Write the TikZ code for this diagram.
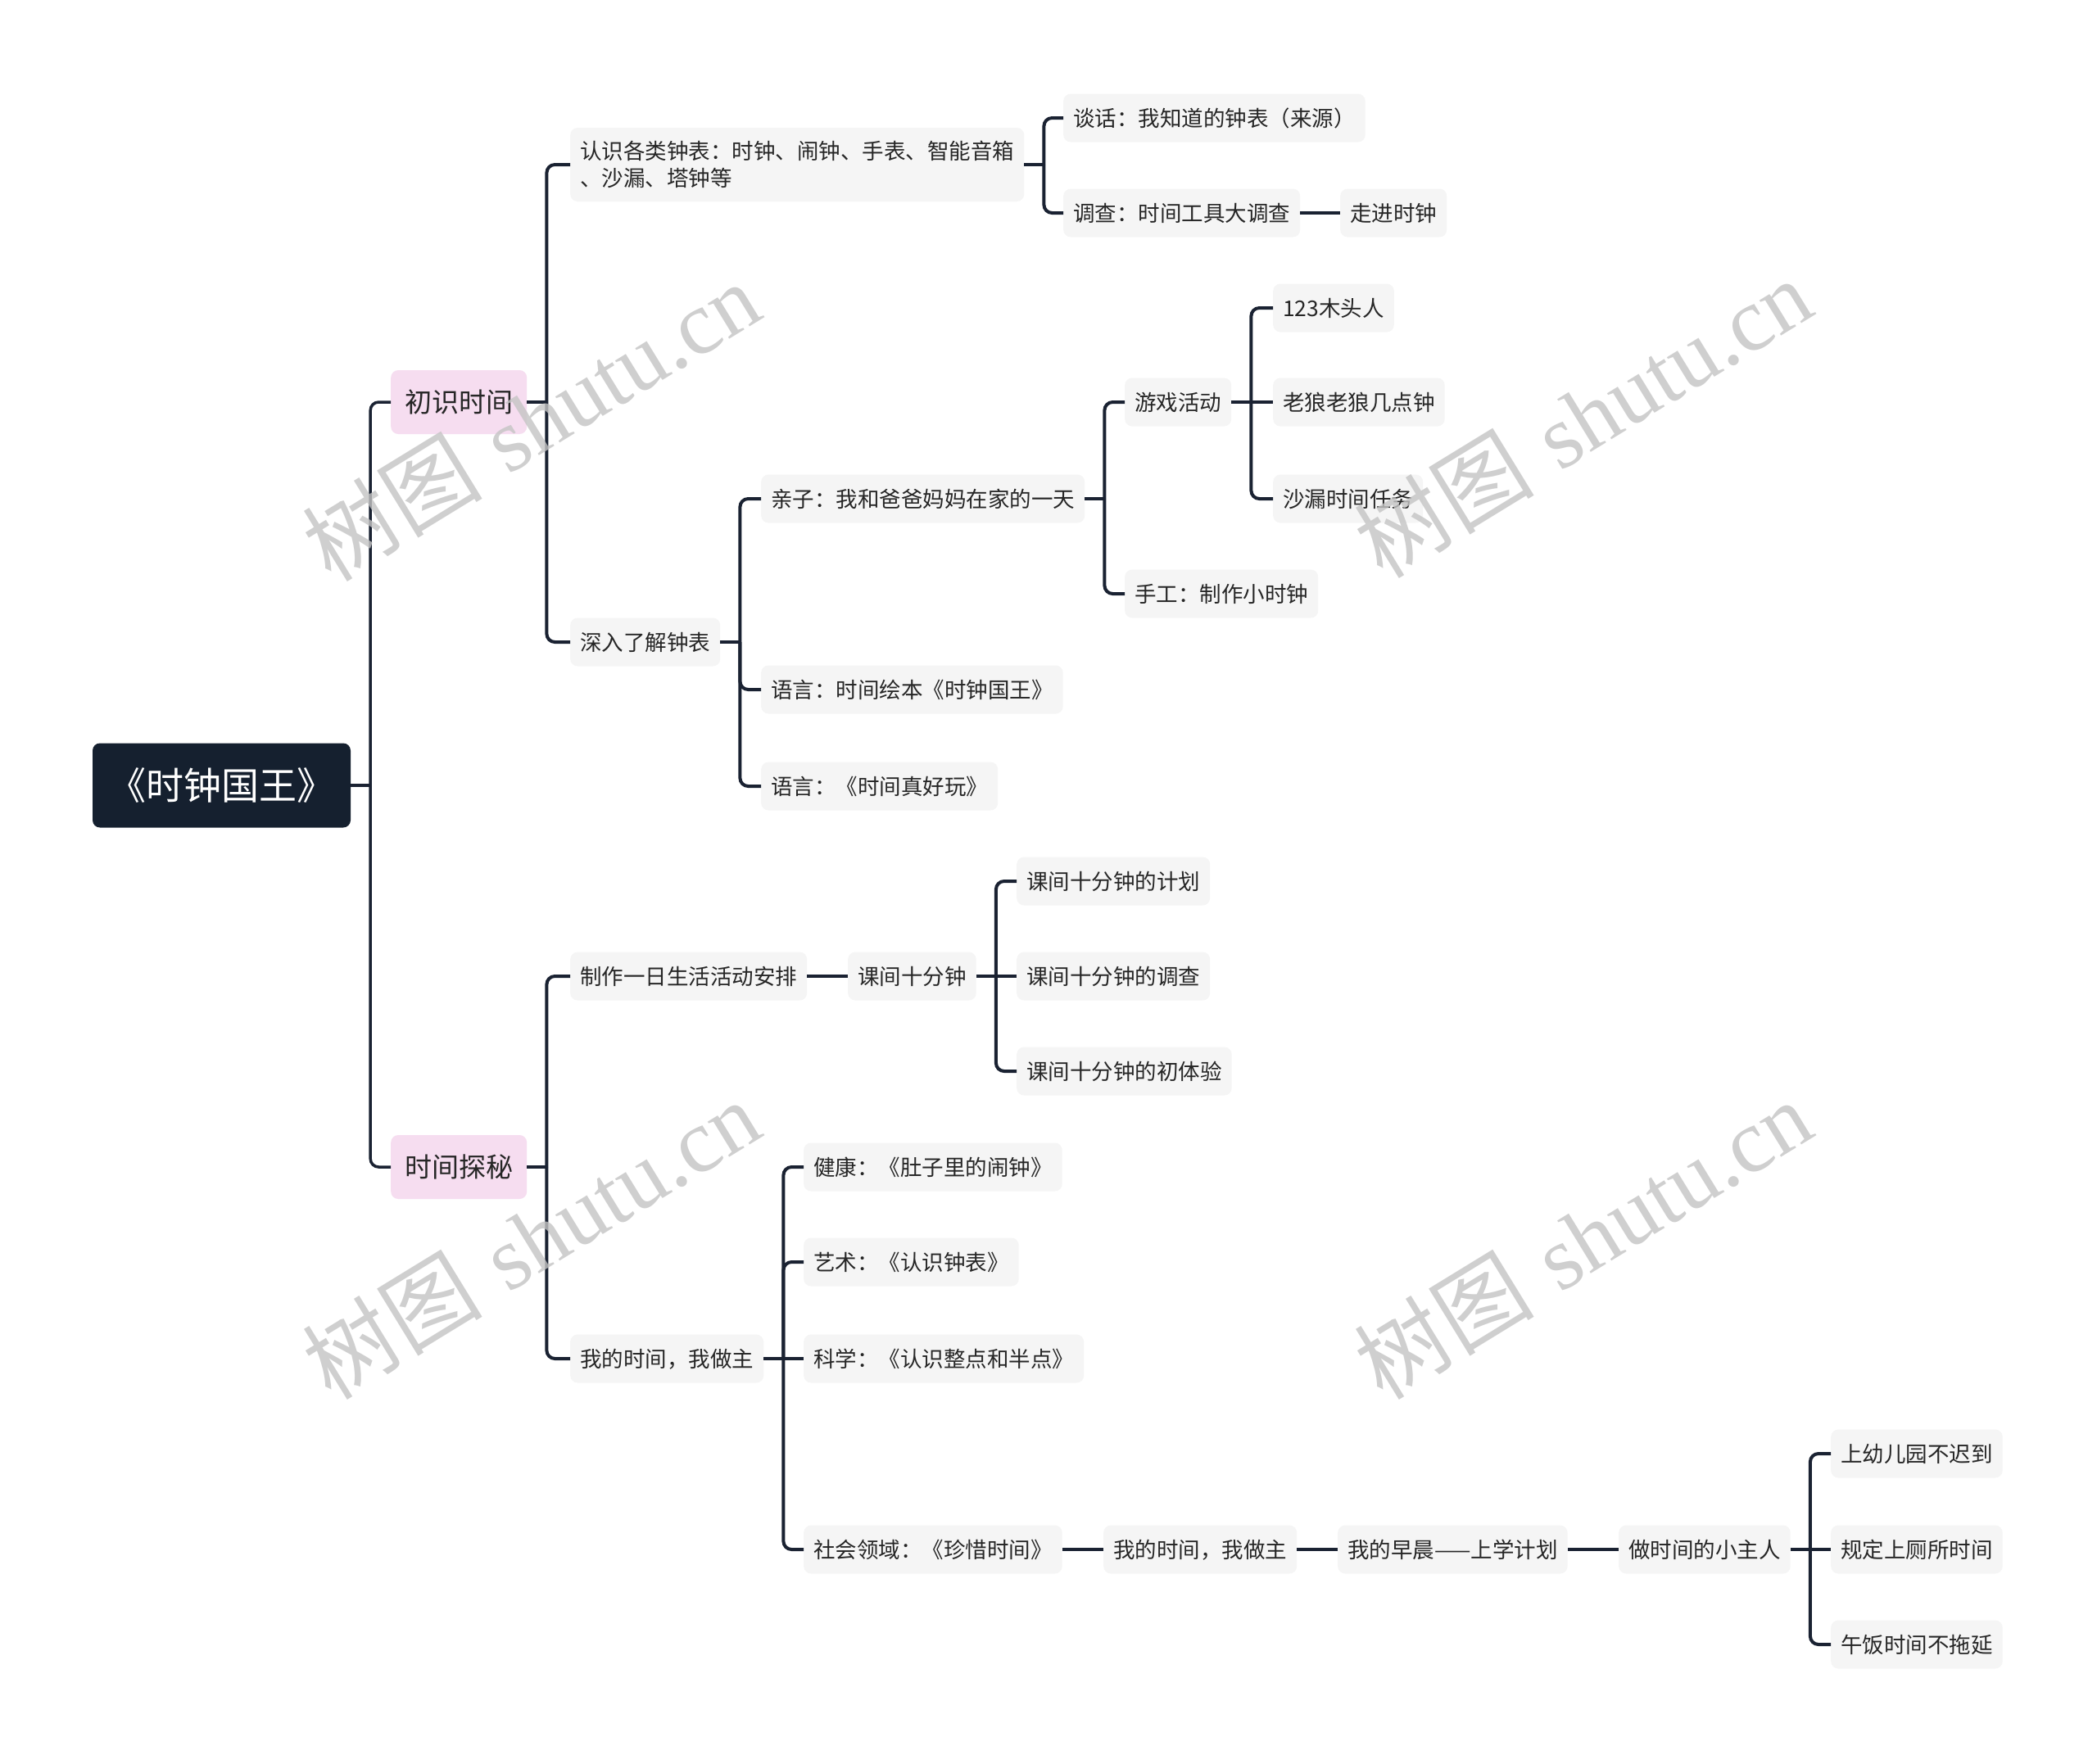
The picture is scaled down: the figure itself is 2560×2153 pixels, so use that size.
\documentclass[tikz,border=0pt]{standalone}
\usepackage{fontspec}
\newfontfamily\cjk{Noto Sans CJK SC}
\newfontfamily\wmserif{Liberation Serif}
\usetikzlibrary{calc}
\definecolor{rootfill}{HTML}{15202F}
\definecolor{pinkfill}{HTML}{F6DDF0}
\definecolor{nodefill}{HTML}{F5F5F5}
\definecolor{linecol}{HTML}{1A2232}
\definecolor{txt}{HTML}{262626}
\definecolor{wm}{HTML}{C4C4C4}
\newcommand\mybranch[3][conn]{%
  \path (#2.east) ++(24,0) coordinate (#2-b);
  \draw[#1] (#2.east) -- (#2-b);
  \foreach \c in {#3} {%
    \path (#2-b); \pgfgetlastxy{\bx}{\by}%
    \path (\c.west); \pgfgetlastxy{\cx}{\cy}%
    \pgfmathtruncatemacro\same{abs(\by-\cy)<1}%
    \ifnum\same=1
      \draw[#1] (#2-b) -- (\c.west);
    \else
      \draw[#1, rounded corners=10pt] (#2-b) |- (\c.west);
    \fi
  }%
}
\begin{document}
\begin{tikzpicture}[x=1pt,y=-1pt,
  base/.style={text=txt, rounded corners=9pt, inner sep=0pt},
  rootbox/.style={base, fill=rootfill, text=white, font=\cjk\fontsize{46}{50}\selectfont,
    minimum width=315pt, minimum height=103pt, text height=40.5pt, text depth=5.5pt},
  topic/.style={base, fill=pinkfill, font=\cjk\fontsize{33}{38}\selectfont,
    minimum height=78pt, inner xsep=17pt, anchor=west, text height=29pt, text depth=4pt},
  leaf/.style={base, fill=nodefill, font=\cjk\fontsize{26.5}{33}\selectfont,
    minimum height=59pt, inner xsep=12pt, anchor=west, text height=23.3pt, text depth=3.2pt},
  leafml/.style={base, fill=nodefill, font=\cjk\fontsize{26.5}{33}\selectfont,
    minimum height=90pt, inner xsep=12pt, anchor=west, align=left},
  conn/.style={draw=linecol, line width=4pt},
  trunk/.style={draw=linecol, line width=3.5pt},
  wmark/.style={text=wm, opacity=0.8, rotate=31.5, font=\fontsize{110}{110}\selectfont}
]
\fill[white] (0,0) rectangle (2560,2153);
\useasboundingbox (0,0) rectangle (2560,2153);

\node[rootbox] (root) at (270.5,959) {《时钟国王》};
\node[topic] (t1) at (477,491) {初识时间};
\node[topic] (t2) at (477,1425) {时间探秘};

\node[leafml] (a1) at (696,201) {认识各类钟表：时钟、闹钟、手表、智能音箱\\、沙漏、塔钟等};
\node[leaf] (a2) at (696,784) {深入了解钟表};
\node[leaf] (b1) at (1298,144) {谈话：我知道的钟表（来源）};
\node[leaf] (b2) at (1298,260) {调查：时间工具大调查};
\node[leaf] (b3) at (1636,260) {走进时钟};
\node[leaf] (c1) at (929,609) {亲子：我和爸爸妈妈在家的一天};
\node[leaf] (c2) at (929,842) {语言：时间绘本《时钟国王》};
\node[leaf] (c3) at (929,960) {语言：《时间真好玩》};
\node[leaf] (d1) at (1373,491) {游戏活动};
\node[leaf] (d2) at (1373,725) {手工：制作小时钟};
\node[leaf] (e1) at (1554,376) {123木头人};
\node[leaf] (e2) at (1554,491) {老狼老狼几点钟};
\node[leaf] (e3) at (1554,609) {沙漏时间任务};

\node[leaf] (f1) at (696,1192) {制作一日生活活动安排};
\node[leaf] (f2) at (696,1659) {我的时间，我做主};
\node[leaf] (g1) at (1035,1192) {课间十分钟};
\node[leaf] (h1) at (1241,1076) {课间十分钟的计划};
\node[leaf] (h2) at (1241,1192) {课间十分钟的调查};
\node[leaf] (h3) at (1241,1308) {课间十分钟的初体验};
\node[leaf] (i1) at (981,1425) {健康：《肚子里的闹钟》};
\node[leaf] (i2) at (981,1541) {艺术：《认识钟表》};
\node[leaf] (i3) at (981,1659) {科学：《认识整点和半点》};
\node[leaf] (i4) at (981,1892) {社会领域：《珍惜时间》};
\node[leaf] (j1) at (1347,1892) {我的时间，我做主};
\node[leaf] (j2) at (1633,1892) {我的早晨——上学计划};
\node[leaf] (j3) at (1976,1892) {做时间的小主人};
\node[leaf] (k1) at (2235,1775) {上幼儿园不迟到};
\node[leaf] (k2) at (2235,1892) {规定上厕所时间};
\node[leaf] (k3) at (2235,2008) {午饭时间不拖延};

\mybranch[trunk]{root}{t1,t2}
\mybranch{t1}{a1,a2}
\mybranch{a1}{b1,b2}
\mybranch{b2}{b3}
\mybranch{a2}{c1,c2,c3}
\mybranch{c1}{d1,d2}
\mybranch{d1}{e1,e2,e3}
\mybranch{t2}{f1,f2}
\mybranch{f1}{g1}
\mybranch{g1}{h1,h2,h3}
\mybranch{f2}{i1,i2,i3,i4}
\mybranch{i4}{j1}
\mybranch{j1}{j2}
\mybranch{j2}{j3}
\mybranch{j3}{k1,k2,k3}

\node[wmark] (w1) at (648,514) {{\cjk 树图} {\wmserif shutu.cn}};
\node[wmark] (w2) at (1932,510) {{\cjk 树图} {\wmserif shutu.cn}};
\node[wmark] (w3) at (648,1513) {{\cjk 树图} {\wmserif shutu.cn}};
\node[wmark] (w4) at (1932,1513) {{\cjk 树图} {\wmserif shutu.cn}};
\end{tikzpicture}
\end{document}
